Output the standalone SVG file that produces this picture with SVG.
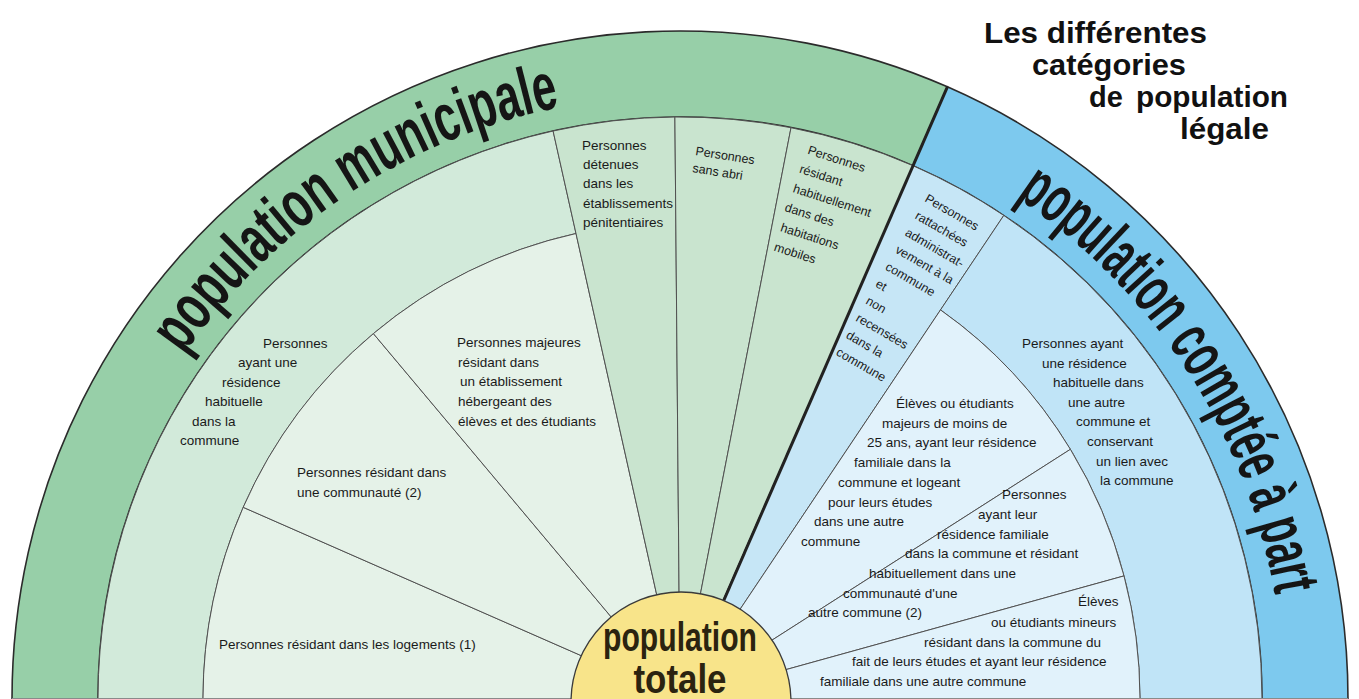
<svg xmlns="http://www.w3.org/2000/svg" width="1359" height="699" viewBox="0 0 1359 699">
<defs>
<style>
.bg{fill:#97cfa8;stroke:#2b2b2b;stroke-width:1.6}
.bb{fill:#7dc9ee;stroke:#2b2b2b;stroke-width:1.6}
.g1{fill:#c9e4cf;stroke:#505050;stroke-width:1}
.g2{fill:#d2eada;stroke:#505050;stroke-width:1}
.g3{fill:#e5f2e8;stroke:#505050;stroke-width:1}
.b1{fill:#c6e6f6;stroke:#505050;stroke-width:1}
.b2{fill:#c0e4f7;stroke:#505050;stroke-width:1}
.b3{fill:#e1f2fb;stroke:#505050;stroke-width:1}
.t{font-family:"Liberation Sans",Arial,sans-serif;font-size:13.5px;fill:#1a1a1a}
.tr{font-family:"Liberation Sans",Arial,sans-serif;font-size:12.5px;fill:#1a1a1a}
.big{font-family:"Liberation Sans",Arial,sans-serif;font-weight:bold;font-size:67px;fill:#151515}
.title{font-family:"Liberation Sans",Arial,sans-serif;font-weight:bold;font-size:29px;fill:#111}
.tot{font-family:"Liberation Sans",Arial,sans-serif;font-weight:bold;font-size:40px;fill:#2b2310}
</style>
<path id="arcText" d="M 76,699 A 604 604 0 0 1 1284,699"/>
</defs>
<rect width="1359" height="699" fill="#ffffff"/>

<g id="band-municipale">
<path class="bg" d="M 12,699 A 668 668 0 0 1 947.4,86.8 L 913,165.7 A 582 582 0 0 0 98,699 Z"/>
<text class="big"><textPath href="#arcText" startOffset="366" textLength="462" lengthAdjust="spacingAndGlyphs">population municipale</textPath></text>
</g>

<g id="band-comptee">
<path class="bb" d="M 947.4,86.8 A 668 668 0 0 1 1348,699 L 1262,699 A 582 582 0 0 0 913,165.7 Z"/>
<text class="big"><textPath href="#arcText" startOffset="1305" textLength="488" lengthAdjust="spacingAndGlyphs">population comptée à part</textPath></text>
</g>

<g id="residence-commune">
<path class="g2" d="M 98,699 A 582 582 0 0 1 553.1,131 L 576,233.5 A 477 477 0 0 0 203,699 Z"/>
<text class="t" x="263" y="348">Personnes</text>
<text class="t" x="238" y="367">ayant une</text>
<text class="t" x="222" y="387">résidence</text>
<text class="t" x="205" y="406">habituelle</text>
<text class="t" x="192" y="426">dans la</text>
<text class="t" x="180" y="445">commune</text>
</g>

<g id="logements">
<path class="g3" d="M 203,699 A 477 477 0 0 1 243.2,507.3 L 680,699 Z"/>
<text class="t" x="219" y="649">Personnes résidant dans les logements (1)</text>
</g>

<g id="communaute">
<path class="g3" d="M 243.2,507.3 A 477 477 0 0 1 373.4,333.6 L 680,699 Z"/>
<text class="t" x="297" y="477">Personnes résidant dans</text>
<text class="t" x="297" y="497">une communauté (2)</text>
</g>

<g id="majeures">
<path class="g3" d="M 373.4,333.6 A 477 477 0 0 1 576,233.5 L 680,699 Z"/>
<text class="t" x="457" y="347">Personnes majeures</text>
<text class="t" x="458" y="367">résidant dans</text>
<text class="t" x="460" y="386">un établissement</text>
<text class="t" x="458" y="406">hébergeant des</text>
<text class="t" x="458" y="426">élèves et des étudiants</text>
</g>

<g id="detenues">
<path class="g1" d="M 553.1,131 A 582 582 0 0 1 674.9,117 L 680,699 Z"/>
<text class="t" x="582" y="150">Personnes</text>
<text class="t" x="583" y="169">détenues</text>
<text class="t" x="583" y="188">dans les</text>
<text class="t" x="583" y="208">établissements</text>
<text class="t" x="583" y="227">pénitentiaires</text>
</g>

<g id="sans-abri">
<path class="g1" d="M 674.9,117 A 582 582 0 0 1 791,127.7 L 680,699 Z"/>
<text class="tr" transform="translate(695,155) rotate(9)">Personnes</text>
<text class="tr" transform="translate(692,172) rotate(9)">sans abri</text>
</g>

<g id="mobiles">
<path class="g1" d="M 791,127.7 A 582 582 0 0 1 913,165.7 L 680,699 Z"/>
<g transform="translate(805,153) rotate(18)">
<text class="tr" x="2" y="0">Personnes</text>
<text class="tr" x="0" y="20.5">résidant</text>
<text class="tr" x="0" y="41">habituellement</text>
<text class="tr" x="-2" y="61.5">dans des</text>
<text class="tr" x="0" y="82">habitations</text>
<text class="tr" x="0" y="102.5">mobiles</text>
</g>
</g>

<g id="rattachees">
<path class="b1" d="M 913,165.7 A 582 582 0 0 1 1003.8,215.4 L 680,699 Z"/>
<g transform="translate(924,201) rotate(30)">
<text class="tr" x="0" y="0">Personnes</text>
<text class="tr" x="0" y="19.7">rattachées</text>
<text class="tr" x="0" y="39.4">administrat-</text>
<text class="tr" x="0" y="59.1">vement à la</text>
<text class="tr" x="0" y="78.8">commune</text>
<text class="tr" x="0" y="98.5">et</text>
<text class="tr" x="0" y="118.2">non</text>
<text class="tr" x="0" y="137.9">recensées</text>
<text class="tr" x="0" y="157.6">dans la</text>
<text class="tr" x="0" y="177.3">commune</text>
</g>
</g>

<g id="residence-autre">
<path class="b2" d="M 1003.8,215.4 A 582 582 0 0 1 1262,699 L 1140,699 A 460 472 0 0 0 940.5,309.9 Z"/>
<text class="t" x="1022" y="348">Personnes ayant</text>
<text class="t" x="1042" y="368">une résidence</text>
<text class="t" x="1053" y="387">habituelle dans</text>
<text class="t" x="1068" y="407">une autre</text>
<text class="t" x="1076" y="426">commune et</text>
<text class="t" x="1087" y="446">conservant</text>
<text class="t" x="1096" y="466">un lien avec</text>
<text class="t" x="1100" y="485">la commune</text>
</g>

<g id="eleves-majeurs">
<path class="b3" d="M 940.5,309.9 A 460 472 0 0 1 1070.4,449.3 L 680,699 Z"/>
<text class="t" x="896" y="408">Élèves ou étudiants</text>
<text class="t" x="882" y="428">majeurs de moins de</text>
<text class="t" x="867" y="447">25 ans, ayant leur résidence</text>
<text class="t" x="854" y="467">familiale dans la</text>
<text class="t" x="838" y="487">commune et logeant</text>
<text class="t" x="828" y="507">pour leurs études</text>
<text class="t" x="814" y="526">dans une autre</text>
<text class="t" x="801" y="546">commune</text>
</g>

<g id="residence-familiale">
<path class="b3" d="M 1070.4,449.3 A 460 472 0 0 1 1124,575.9 L 680,699 Z"/>
<text class="t" x="1002" y="499">Personnes</text>
<text class="t" x="978" y="519">ayant leur</text>
<text class="t" x="937" y="539">résidence familiale</text>
<text class="t" x="905" y="558">dans la commune et résidant</text>
<text class="t" x="869" y="578">habituellement dans une</text>
<text class="t" x="843" y="598">communauté d'une</text>
<text class="t" x="808" y="617">autre commune (2)</text>
</g>

<g id="eleves-mineurs">
<path class="b3" d="M 1124,575.9 A 460 472 0 0 1 1140,699 L 680,699 Z"/>
<text class="t" x="1078" y="606">Élèves</text>
<text class="t" x="991" y="627">ou étudiants mineurs</text>
<text class="t" x="924" y="647">résidant dans la commune du</text>
<text class="t" x="852" y="666">fait de leurs études et ayant leur résidence</text>
<text class="t" x="820" y="686">familiale dans une autre commune</text>
</g>

<g id="connectors">
<line x1="947.4" y1="86.8" x2="700" y2="655" stroke="#222" stroke-width="3"/>
<line x1="12" y1="698.5" x2="1348" y2="698.5" stroke="#8a8a8a" stroke-width="1"/>
</g>

<g id="population-totale">
<circle cx="681" cy="702" r="110" fill="#f8e48a" stroke="#3a3a3a" stroke-width="1.3"/>
<text class="tot" x="680" y="651" text-anchor="middle" textLength="154" lengthAdjust="spacingAndGlyphs">population</text>
<text class="tot" x="680" y="693" text-anchor="middle" textLength="93" lengthAdjust="spacingAndGlyphs">totale</text>
</g>

<g id="title">
<text class="title" x="984" y="43" textLength="223" lengthAdjust="spacingAndGlyphs">Les différentes</text>
<text class="title" x="1032" y="75" textLength="154" lengthAdjust="spacingAndGlyphs">catégories</text>
<text class="title" x="1089" y="107">de</text>
<text class="title" x="1136" y="107" textLength="152" lengthAdjust="spacingAndGlyphs">population</text>
<text class="title" x="1180" y="139" textLength="89" lengthAdjust="spacingAndGlyphs">légale</text>
</g>
</svg>
